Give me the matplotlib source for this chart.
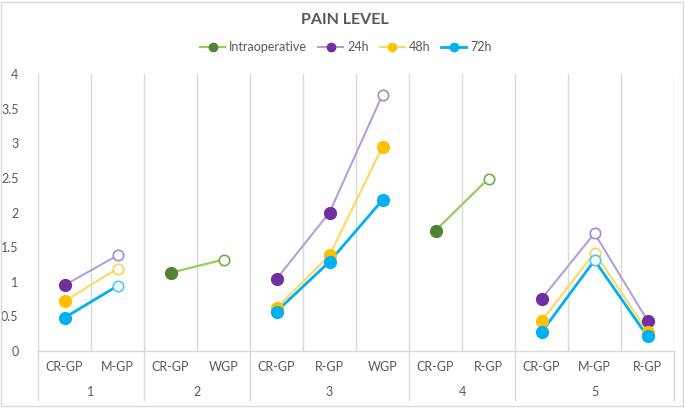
import numpy as np
import matplotlib
matplotlib.use("Agg")
import matplotlib.pyplot as plt
from matplotlib.lines import Line2D
from matplotlib.patches import Rectangle
import matplotlib.transforms as mtransforms

plt.rcParams['font.family'] = ['Lato', 'DejaVu Sans']

# categories (two-level axis)
categories = ["CR-GP", "M-GP", "CR-GP", "WGP", "CR-GP", "R-GP", "WGP",
              "CR-GP", "R-GP", "CR-GP", "M-GP", "R-GP"]
groups = ["1", "2", "3", "4", "5"]
group_sizes = [2, 2, 3, 2, 3]

nan = np.nan
intraop = [nan, nan, 1.13, 1.32, nan, nan, nan, 1.74, 2.49, nan, nan, nan]
h24 = [0.95, 1.38, nan, nan, 1.04, 2.00, 3.70, nan, nan, 0.75, 1.70, 0.44]
h48 = [0.72, 1.19, nan, nan, 0.62, 1.38, 2.95, nan, nan, 0.43, 1.42, 0.28]
h72 = [0.48, 0.94, nan, nan, 0.57, 1.29, 2.18, nan, nan, 0.27, 1.31, 0.21]

series_names = ["Intraoperative", "24h", "48h", "72h"]
series_values = [intraop, h24, h48, h72]
# points drawn as hollow markers
hollow_idx = [[3, 8], [1, 6, 10], [1, 10], [1, 10]]

line_colors = ["#92D050", "#B4A0D6", "#FFD965", "#00B0F0"]
dot_colors = ["#548235", "#7030A0", "#FFC000", "#00B0F0"]
ring_colors = ["#70AD47", "#A68BCB", "#FFD34D", "#4FC8F5"]
line_widths = [1.6, 1.5, 1.6, 2.0]

grey_txt = "#595959"
grid_col = "#D9D9D9"

fig = plt.figure(figsize=(6.85, 4.08), dpi=100)
ax = fig.add_axes([38 / 685, 57 / 408, 636 / 685, 277 / 408])

x = np.arange(len(categories))
for vals, holl, lc, dc, rc, lw in zip(series_values, hollow_idx, line_colors,
                                      dot_colors, ring_colors, line_widths):
    vals = np.array(vals, dtype=float)
    ax.plot(x, vals, color=lc, lw=lw, zorder=2)
    filled = [i for i in range(len(vals)) if not np.isnan(vals[i]) and i not in holl]
    ax.plot(x[filled], vals[filled], ls="none", marker="o", ms=8.5,
            mfc=dc, mec=dc, zorder=3)
    ax.plot(x[holl], vals[holl], ls="none", marker="o", ms=7.5,
            mfc="white", mec=rc, mew=1.2, zorder=3)

ax.set_xlim(-0.5, len(categories) - 0.5)
ax.set_ylim(0, 4)
ax.set_yticks(np.arange(0, 4.01, 0.5))
ax.set_yticklabels(["0", "0.5", "1", "1.5", "2", "2.5", "3", "3.5", "4"])
ax.tick_params(axis="y", length=0, pad=14, labelsize=9, labelcolor=grey_txt)
ax.set_xticks([])
ax.set_xticks(np.arange(-0.5, len(categories)), minor=True)
ax.tick_params(axis="x", which="both", length=0, labelbottom=False)
ax.grid(True, which="minor", axis="x", color=grid_col, lw=1)
for s in ["top", "right", "left"]:
    ax.spines[s].set_visible(False)
ax.spines["bottom"].set_color(grid_col)
ax.spines["bottom"].set_linewidth(1)

# two-level category labels
trans = mtransforms.blended_transform_factory(ax.transData, ax.transAxes)
for i, c in enumerate(categories):
    ax.text(i, -0.058, c, transform=trans, ha="center", va="center",
            fontsize=9, color=grey_txt)
start = 0
bounds = [-0.5]
for g, n in zip(groups, group_sizes):
    mid = start + (n - 1) / 2
    ax.text(mid, -0.148, g, transform=trans, ha="center", va="center",
            fontsize=9, color=grey_txt)
    start += n
    bounds.append(start - 0.5)
for b in bounds:
    ax.add_line(Line2D([b, b], [0, -0.177], transform=trans, color=grid_col,
                       lw=1, clip_on=False))

fig.text(0.503, 0.951, "PAIN LEVEL", ha="center", va="center",
         fontsize=11.5, fontweight="bold", color=grey_txt)

handles = [Line2D([], [], color=lc, lw=lw, marker="o", ms=6, mfc=dc, mec=dc)
           for lc, dc, lw in zip(line_colors, dot_colors, line_widths)]
fig.legend(handles, series_names, loc="center", bbox_to_anchor=(0.505, 0.885),
           ncol=4, frameon=False, fontsize=9, labelcolor=grey_txt,
           handlelength=2.0, handletextpad=0.3, columnspacing=0.9)

fig.patches.append(Rectangle((0.002, 0.004), 0.995, 0.992, transform=fig.transFigure,
                             fill=False, edgecolor=grid_col, lw=1))

fig.savefig("out.png", dpi=100)
